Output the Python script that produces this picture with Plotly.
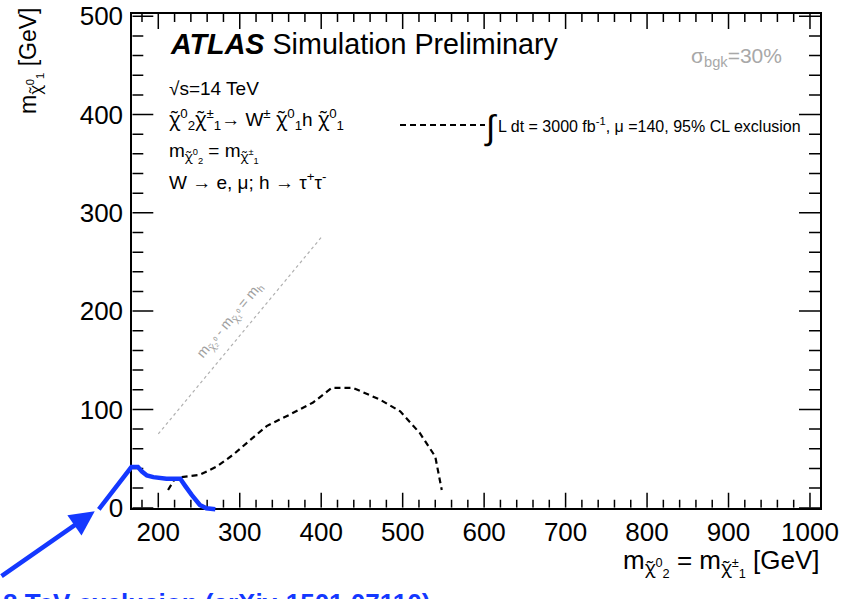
import plotly.graph_objects as go

W, H = 846, 599

# HL-LHC expected 95% CL exclusion contour (3000 fb^-1, mu=140, sigma_bkg=30%)
hl_m_chi2 = [212, 220, 227, 251, 272, 292, 313, 333, 362, 390, 413, 439, 472, 497, 521, 540, 544, 548]
hl_m_chi1 = [18, 29, 31, 33.5, 42, 54, 69, 83, 95, 107, 122, 122, 110, 98, 76, 52, 35, 18]

# 8 TeV exclusion contour (arXiv:1501.07110)
run1_m_chi2 = [127, 167, 175, 180, 186, 194, 210, 227, 233, 241, 251, 259, 270]
run1_m_chi1 = [-1.6, 41.4, 41.4, 36.8, 32.7, 31.1, 29.4, 29.4, 22.2, 13.0, 2.8, -0.6, -1.6]

# kinematic boundary m(chi2) - m(chi1) = m_h
kin_m_chi2 = [200, 400]
kin_m_chi1 = [75, 275]

# axis tick layout: first labelled value, major step, minor step
x_tick0, x_major, x_minor = 200, 100, 20
y_tick0, y_major, y_minor = 0, 100, 20

x_range = [168.1, 1012.3]
y_range = [0.0, 502.3]

# frame in pixels: left, right, top, bottom
FL, FR, FT, FB = 132.3, 820.0, 14.0, 507.7
x_dom = [FL / W, FR / W]
y_dom = [1 - FB / H, 1 - FT / H]
ppx = (FR - FL) / (x_range[1] - x_range[0])   # pixels per GeV along x
ppy = (FB - FT) / (y_range[1] - y_range[0])   # pixels per GeV along y


# data -> paper mapping of the frame axes (same linear scale, usable outside the frame)
def to_paper_x(v):
    return x_dom[0] + (v - x_range[0]) / (x_range[1] - x_range[0]) * (x_dom[1] - x_dom[0])


def to_paper_y(v):
    return y_dom[0] + (v - y_range[0]) / (y_range[1] - y_range[0]) * (y_dom[1] - y_dom[0])


FONT = "Liberation Sans, Arial, Helvetica, sans-serif"
BLUE = "#1438ff"
CHI = '<span style="font-family:Noto Sans">\u03c7\u0303</span>'

fig = go.Figure()

# ROOT-style inside tick marks on all four sides of the frame, as one segmented line
tick_x, tick_y = [], []
v = x_tick0 - x_minor
while v <= x_range[1]:
    if v >= x_range[0]:
        d = (15 if (v - x_tick0) % x_major == 0 else 8) / ppy
        tick_x += [v, v, None, v, v, None]
        tick_y += [y_range[0], y_range[0] + d, None, y_range[1], y_range[1] - d, None]
    v += x_minor
v = y_tick0
while v <= y_range[1]:
    d = (21 if (v - y_tick0) % y_major == 0 else 11) / ppx
    tick_x += [x_range[0], x_range[0] + d, None, x_range[1], x_range[1] - d, None]
    tick_y += [v, v, None, v, v, None]
    v += y_minor

fig.add_trace(go.Scatter(
    x=tick_x, y=tick_y, mode="lines", line=dict(color="black", width=1.5),
    connectgaps=False, hoverinfo="skip", showlegend=False))

fig.add_trace(go.Scatter(
    x=kin_m_chi2, y=kin_m_chi1, mode="lines",
    line=dict(color="#b0b0b0", width=1.2, dash="dot"),
    hoverinfo="skip", showlegend=False))

fig.add_trace(go.Scatter(
    x=hl_m_chi2, y=hl_m_chi1, mode="lines",
    line=dict(color="black", width=2.2, dash="6px,4px"),
    hoverinfo="skip", showlegend=False))

# the 8 TeV contour runs past the frame edge, so it is drawn unclipped on the page
run1_path = "M " + " L ".join(
    f"{to_paper_x(a):.5f},{to_paper_y(b):.5f}" for a, b in zip(run1_m_chi2, run1_m_chi1))
fig.add_shape(type="path", path=run1_path, xref="paper", yref="paper",
              line=dict(color=BLUE, width=4.5), layer="above")

tick_font = dict(family=FONT, size=26, color="black")

fig.update_layout(
    width=W, height=H,
    margin=dict(l=0, r=0, t=0, b=0, autoexpand=False),
    paper_bgcolor="white", plot_bgcolor="white",
    xaxis=dict(domain=x_dom, range=x_range, tickmode="linear", tick0=x_tick0, dtick=x_major,
               ticks="", showline=True, linewidth=2, linecolor="black", mirror=True,
               showgrid=False, zeroline=False, tickfont=tick_font, anchor="y"),
    yaxis=dict(domain=y_dom, range=y_range, tickmode="linear", tick0=y_tick0, dtick=y_major,
               ticks="", showline=True, linewidth=2, linecolor="black", mirror=True,
               showgrid=False, zeroline=False, tickfont=tick_font, anchor="x",
               ticklabelstandoff=2),
    showlegend=False,
)


def px(x):
    return x / W


def py(y):
    return 1 - y / H


def note(text, x, y, size, color="black", xanchor="left", yanchor="middle", angle=0, **kw):
    fig.add_annotation(text=text, x=px(x), y=py(y), xref="paper", yref="paper",
                       xanchor=xanchor, yanchor=yanchor, showarrow=False, textangle=angle,
                       font=dict(family=FONT, size=size, color=color), **kw)


note("<b><i>ATLAS</i></b> Simulation Preliminary", 168, 44, 28.7)
note("\u221as=14 TeV", 167, 89, 19)
note(f"{CHI}<sup>0</sup><sub>2</sub>{CHI}<sup>\u00b1</sup><sub>1</sub>\u2192 W<sup>\u00b1</sup> "
     f"{CHI}<sup>0</sup><sub>1</sub>h {CHI}<sup>0</sup><sub>1</sub>", 167, 120, 19)
note(f"m<sub>{CHI}<sup>0</sup><sub>2</sub></sub> = m<sub>{CHI}<sup>\u00b1</sup><sub>1</sub></sub>", 167, 153, 19)
note("W \u2192 e, \u03bc; h \u2192 \u03c4<sup>+</sup>\u03c4<sup>-</sup>", 167, 181, 19)

note("\u03c3<sub>bgk</sub>=30%", 689, 57, 21, color="#a8a8a8")

fig.add_shape(type="line", xref="paper", yref="paper", x0=px(400), x1=px(485), y0=py(125), y1=py(125),
              line=dict(color="black", width=2, dash="6px,4px"))
note("\u222b", 482, 127, 34)
note("L dt = 3000 fb<sup>-1</sup>, \u03bc =140, 95% CL exclusion", 496, 125, 16)

note(f"m<sub>{CHI}\u2082\u2070</sub> - m<sub>{CHI}\u2081\u2070</sub> = m<sub>h</sub>", 230, 320, 14,
     color="#a0a0a0", xanchor="center", angle=-50.2)

note(f"m<sub>{CHI}<sup>0</sup><sub>2</sub></sub> = m<sub>{CHI}<sup>\u00b1</sup><sub>1</sub></sub> [GeV]",
     822, 563, 26, xanchor="right")
note(f"m<sub>{CHI}<sup>0</sup><sub>1</sub></sub> [GeV]", 31, 6, 23, xanchor="center", yanchor="top", angle=-90)

note("<b>8 TeV exclusion (arXiv:1501.07110)</b>", 432, 586, 26, color=BLUE, xanchor="right", yanchor="top")

# arrow pointing to the start of the 8 TeV contour
fig.add_annotation(x=to_paper_x(run1_m_chi2[0] - 5), y=to_paper_y(run1_m_chi1[0] - 2),
                   xref="paper", yref="paper",
                   ax=-105, ay=66, axref="pixel", ayref="pixel", text="", showarrow=True,
                   arrowhead=2, arrowsize=1.1, arrowwidth=4.5, arrowcolor=BLUE)

fig.write_html("out.html")
